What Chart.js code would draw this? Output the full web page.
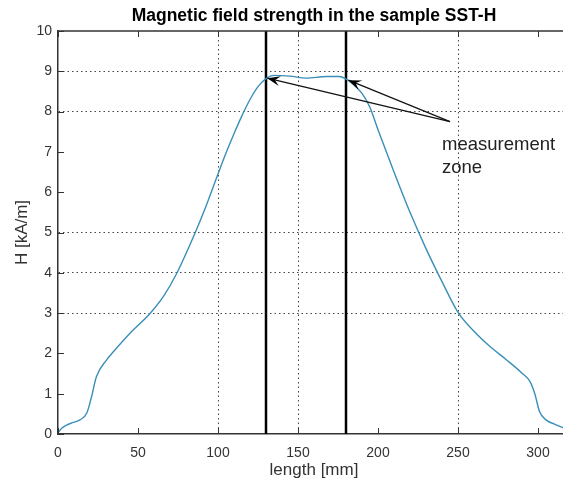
<!DOCTYPE html>
<html>
<head>
<meta charset="utf-8">
<title>Magnetic field strength in the sample SST-H</title>
<script src="https://cdn.jsdelivr.net/npm/chart.js@4.4.1/dist/chart.umd.min.js"></script>
<style>
  html, body { margin: 0; padding: 0; background: #fff; overflow: hidden; }
  #wrap { width: 563px; height: 488px; overflow: hidden; }
  canvas { display: block; }
</style>
</head>
<body>
<div id="wrap"><canvas id="chart" width="628" height="488"></canvas></div>
<script>
var posX = [0, 2.3, 5.4, 9, 13.75, 18, 21, 24, 30.4, 34.6, 45, 57.5, 66, 74, 85.6, 92, 100, 105, 110, 115, 120, 125, 130, 135, 145, 155, 168, 176, 180.4, 185, 190, 195, 200, 210, 220, 230, 240, 250, 260, 270, 280, 290, 295, 298, 301, 305, 310, 316];
var fieldH = [0.03, 0.14, 0.22, 0.28, 0.35, 0.52, 0.93, 1.42, 1.84, 2.04, 2.5, 2.99, 3.42, 3.97, 4.98, 5.6, 6.45, 6.97, 7.45, 7.9, 8.3, 8.62, 8.82, 8.9, 8.88, 8.83, 8.87, 8.87, 8.8, 8.66, 8.45, 8.1, 7.55, 6.5, 5.5, 4.6, 3.78, 3.02, 2.55, 2.17, 1.85, 1.51, 1.3, 1.0, 0.55, 0.35, 0.25, 0.15];

// measurement zone limits [mm]
var zoneX = [130, 180];
var zoneLabel = ['measurement', 'zone'];
var arrowTail = { x: 245, y: 7.75 };
var arrowTips = [{ x: 130.8, y: 8.83 }, { x: 181.5, y: 8.78 }];

var xTickVals = [0, 50, 100, 150, 200, 250, 300];
var yTickVals = [0, 1, 2, 3, 4, 5, 6, 7, 8, 9, 10];
var xGridVals = [100, 150, 250];
var yGridVals = [3, 4, 5, 8, 9];

var gridCol = '#444';
var axisCol = '#333';
var fam = '"Liberation Sans", Arial, sans-serif';

var curveData = posX.map(function(x, i) { return { x: x, y: fieldH[i] }; });
var zoneSets = zoneX.map(function(x) {
  return {
    data: [{ x: x, y: 0 }, { x: x, y: 10 }],
    borderColor: '#000', borderWidth: 2.5, pointRadius: 0, tension: 0
  };
});

function line(ctx, x1, y1, x2, y2) {
  ctx.beginPath(); ctx.moveTo(x1, y1); ctx.lineTo(x2, y2); ctx.stroke();
}

var decor = {
  id: 'decor',
  afterDraw: function(chart) {
    var ctx = chart.ctx, a = chart.chartArea;
    var xs = chart.scales.x, ys = chart.scales.y;
    ctx.save();
    // top border + inward tick marks
    ctx.strokeStyle = axisCol;
    ctx.lineWidth = 1.5;
    line(ctx, a.left, a.top, a.right, a.top);
    ctx.lineWidth = 1;
    xTickVals.forEach(function(v) {
      var px = Math.round(xs.getPixelForValue(v)) + 0.5;
      line(ctx, px, a.bottom, px, a.bottom - 6);
      line(ctx, px, a.top, px, a.top + 6);
    });
    yTickVals.forEach(function(v) {
      var py = Math.round(ys.getPixelForValue(v)) + 0.5;
      line(ctx, a.left, py, a.left + 6, py);
    });

    // arrows to the zone edges
    var tx = xs.getPixelForValue(arrowTail.x), ty = ys.getPixelForValue(arrowTail.y);
    ctx.strokeStyle = '#111';
    ctx.fillStyle = '#000';
    ctx.lineWidth = 1.2;
    arrowTips.forEach(function(t) {
      var hx = xs.getPixelForValue(t.x), hy = ys.getPixelForValue(t.y);
      line(ctx, tx, ty, hx, hy);
      var ang = Math.atan2(hy - ty, hx - tx);
      var len = 13, hw = 5;
      var bx = hx - len * Math.cos(ang), by = hy - len * Math.sin(ang);
      ctx.beginPath();
      ctx.moveTo(hx, hy);
      ctx.lineTo(bx + hw * Math.sin(ang), by - hw * Math.cos(ang));
      ctx.lineTo(hx - 0.6 * len * Math.cos(ang), hy - 0.6 * len * Math.sin(ang));
      ctx.lineTo(bx - hw * Math.sin(ang), by + hw * Math.cos(ang));
      ctx.closePath();
      ctx.fill();
    });

    // annotation text
    ctx.fillStyle = '#222';
    ctx.font = '18.5px ' + fam;
    ctx.textAlign = 'left';
    ctx.textBaseline = 'middle';
    var lx = xs.getPixelForValue(240);
    ctx.fillText(zoneLabel[0], lx, ys.getPixelForValue(7.17));
    ctx.fillText(zoneLabel[1], lx, ys.getPixelForValue(6.6));
    ctx.restore();
  }
};

new Chart(document.getElementById('chart'), {
  type: 'line',
  data: {
    datasets: [{
      label: 'H',
      data: curveData,
      borderColor: '#3a8fb8',
      borderWidth: 1.4,
      pointRadius: 0,
      cubicInterpolationMode: 'monotone'
    }].concat(zoneSets)
  },
  options: {
    responsive: false,
    animation: false,
    layout: { padding: 0 },
    plugins: {
      legend: { display: false },
      tooltip: { enabled: false },
      title: {
        display: true,
        text: 'Magnetic field strength in the sample SST-H',
        color: '#000',
        font: { family: fam, size: 17.5, weight: 'bold', lineHeight: 1.2 },
        padding: { top: 6, bottom: 4 }
      }
    },
    scales: {
      x: {
        type: 'linear', min: 0, max: 320,
        afterBuildTicks: function(s) { s.ticks = xTickVals.map(function(v) { return { value: v }; }); },
        afterFit: function(s) { s.height = 54; },
        ticks: { color: axisCol, padding: 11, maxRotation: 0, font: { family: fam, size: 14 } },
        grid: {
          drawTicks: false,
          lineWidth: 1,
          color: function(c) { return c.tick && xGridVals.indexOf(c.tick.value) >= 0 ? gridCol : 'rgba(0,0,0,0)'; }
        },
        border: { display: true, color: axisCol, width: 1.5, dash: [1.5, 3] },
        title: {
          display: true, text: 'length [mm]', color: axisCol,
          font: { family: fam, size: 17 },
          padding: { top: 0, bottom: 7 }
        }
      },
      y: {
        min: 0, max: 10,
        afterBuildTicks: function(s) { s.ticks = yTickVals.map(function(v) { return { value: v }; }); },
        afterFit: function(s) { s.width = 58; },
        ticks: { color: axisCol, padding: 6, font: { family: fam, size: 14 } },
        grid: {
          drawTicks: false,
          lineWidth: 1,
          color: function(c) { return c.tick && yGridVals.indexOf(c.tick.value) >= 0 ? gridCol : 'rgba(0,0,0,0)'; }
        },
        border: { display: true, color: axisCol, width: 1.5, dash: [1.5, 3] },
        title: {
          display: true, text: 'H [kA/m]', color: axisCol,
          font: { family: fam, size: 17 },
          padding: { top: 12, bottom: 0 }
        }
      },
      yRight: {
        position: 'right', min: 0, max: 10,
        afterFit: function(s) { s.width = 58; },
        ticks: { display: false },
        grid: { display: false, drawTicks: false },
        border: { display: false }
      }
    }
  },
  plugins: [decor]
});
</script>
</body>
</html>
